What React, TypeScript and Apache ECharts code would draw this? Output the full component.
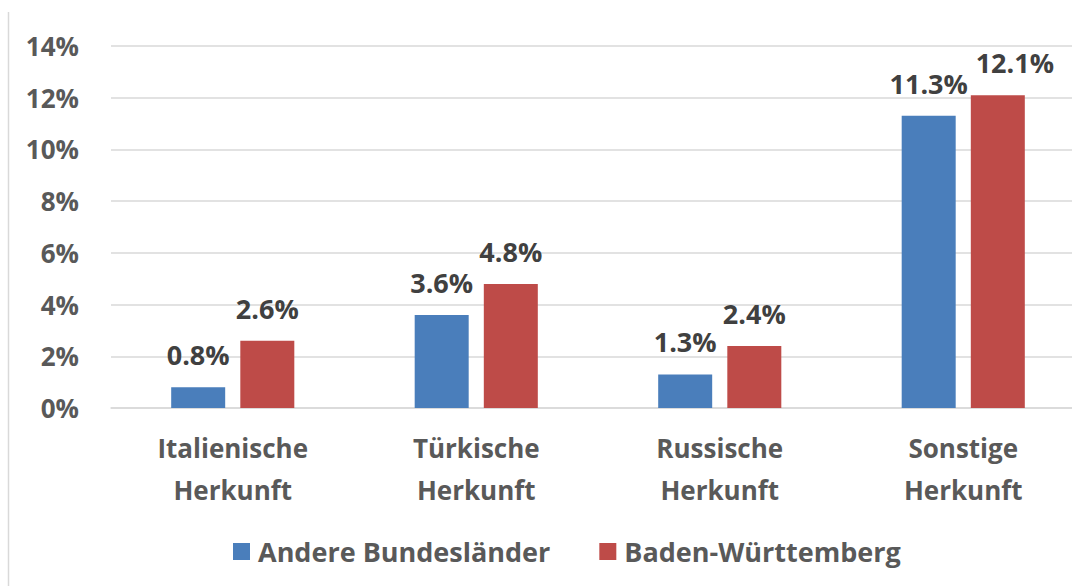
import React, { useEffect, useRef } from "react";
import * as echarts from "echarts";

const categories = ["Italienische\nHerkunft", "Türkische\nHerkunft", "Russische\nHerkunft", "Sonstige\nHerkunft"];
const seriesNames = ["Andere Bundesländer", "Baden-Württemberg"];
const andereValues = [0.8, 3.6, 1.3, 11.3];
const bwValues = [2.6, 4.8, 2.4, 12.1];
const yMin = 0;
const yMax = 14;
const yInterval = 2;

const FONT = "'Open Sans', 'Noto Sans', sans-serif";

export default function App() {
  const ref = useRef<HTMLDivElement>(null);
  useEffect(() => {
    document.body.style.margin = "0";
    document.body.style.overflow = "hidden";
    const chart = echarts.init(ref.current!, null, { renderer: "svg" });
    const labelStyle = {
      show: true,
      position: "top" as const,
      distance: 19,
      color: "#404040",
      fontFamily: FONT,
      fontWeight: "bold" as const,
      fontSize: 27,
      formatter: (p: any) => p.value.toFixed(1) + "%",
    };
    const bwData = bwValues.map((v, i) =>
      i === 3 ? { value: v, label: { offset: [17, 0] } } : v
    );
    chart.setOption({
      animation: false,
      backgroundColor: "#ffffff",
      textStyle: { fontFamily: FONT },
      grid: { left: 111, right: 0, top: 46, bottom: 178, containLabel: false },
      legend: {
        left: 228,
        top: 533,
        itemWidth: 17,
        itemHeight: 17,
        itemGap: 49,
        icon: "rect",
        textStyle: { color: "#595959", fontFamily: FONT, fontWeight: "bold", fontSize: 27, padding: [0, 0, 0, 3] },
        data: seriesNames,
      },
      xAxis: {
        type: "category",
        data: categories,
        axisLine: { show: true, lineStyle: { color: "#d9d9d9", width: 1.5 } },
        axisTick: { show: false },
        axisLabel: {
          color: "#595959",
          fontFamily: FONT,
          fontWeight: "bold",
          fontSize: 26,
          lineHeight: 42,
          margin: 19,
          interval: 0,
        },
      },
      yAxis: {
        type: "value",
        min: yMin,
        max: yMax,
        interval: yInterval,
        axisLine: { show: false },
        axisTick: { show: false },
        splitLine: { lineStyle: { color: "#d9d9d9", width: 1.5 } },
        axisLabel: {
          color: "#595959",
          fontFamily: FONT,
          fontWeight: "bold",
          fontSize: 26,
          margin: 32,
          formatter: (v: number) => v + "%",
        },
      },
      graphic: [
        {
          type: "line",
          shape: { x1: 8.5, y1: 12, x2: 8.5, y2: 586 },
          style: { stroke: "#d9d9d9", lineWidth: 1.5 },
        },
      ],
      series: [
        {
          name: seriesNames[0],
          type: "bar",
          data: andereValues,
          barWidth: 54,
          barGap: "28%",
          itemStyle: { color: "#4a7ebb" },
          label: labelStyle,
        },
        {
          name: seriesNames[1],
          type: "bar",
          data: bwData,
          barWidth: 54,
          barGap: "28%",
          itemStyle: { color: "#be4b48" },
          label: labelStyle,
        },
      ],
    });
    return () => chart.dispose();
  }, []);
  return <div ref={ref} style={{ width: 1085, height: 586 }} />;
}
